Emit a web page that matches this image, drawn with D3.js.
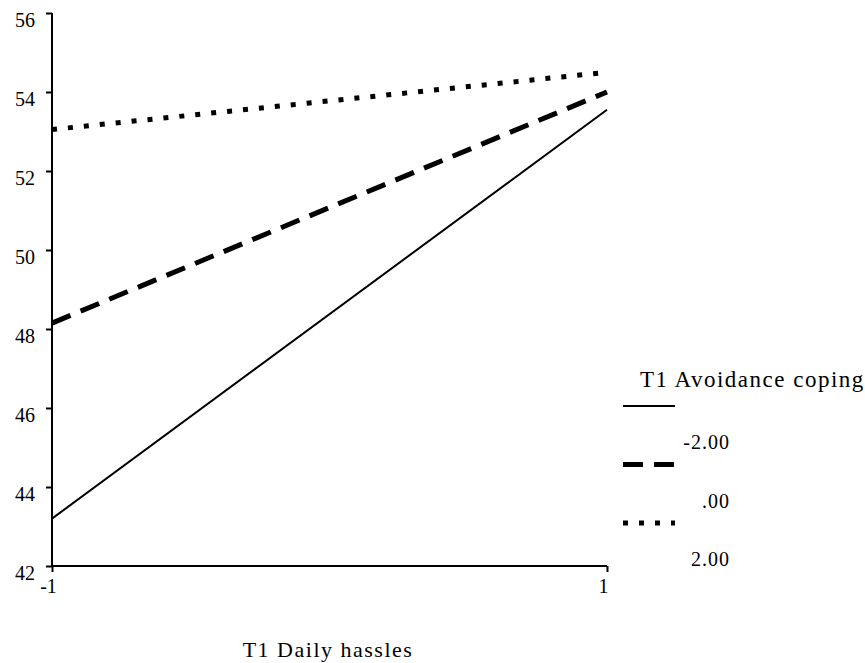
<!DOCTYPE html>
<html>
<head>
<meta charset="utf-8">
<script src="https://cdn.jsdelivr.net/npm/d3@7"></script>
<style>
  body { margin: 0; background: #fff; }
  text { font-family: "Liberation Serif", "Times New Roman", serif; fill: #000; }
</style>
</head>
<body>
<div id="chart"></div>
<script>
// chart values
var hassles = [-1, 1];
var groups = ["-2.00", ".00", "2.00"];
var lowCoping = [43.2, 53.55];
var midCoping = [48.15, 54.0];
var highCoping = [53.05, 54.5];
var yTicks = [42, 44, 46, 48, 50, 52, 54, 56];

var width = 865, height = 663;
var serif = '"Liberation Serif", "Times New Roman", serif';
var svg = d3.select("#chart").append("svg")
    .attr("width", width).attr("height", height);

var x = d3.scaleLinear().domain([-1, 1]).range([52, 607]);
var y = d3.scaleLinear().domain([42, 56]).range([566, 13]);

// y axis
var yAxis = svg.append("g")
    .attr("transform", "translate(" + x(-1) + ",0)")
    .call(d3.axisLeft(y).tickValues(yTicks).tickSize(6).tickPadding(11));
yAxis.attr("font-family", null);
yAxis.select(".domain").attr("d", "M0," + y(56) + "V" + y(42)).attr("stroke-width", 2);
yAxis.selectAll(".tick line").attr("stroke-width", 2);
yAxis.selectAll(".tick text")
    .attr("dy", "0.68em")
    .attr("font-size", 20)
    .style("font-family", serif);

// x axis
var xAxis = svg.append("g")
    .attr("transform", "translate(0," + y(42) + ")")
    .call(d3.axisBottom(x).tickValues(hassles).tickSize(6).tickPadding(7)
        .tickFormat(function (d) { return String(d); }));
xAxis.attr("font-family", null);
xAxis.select(".domain").attr("d", "M" + x(-1) + ",0H" + x(1)).attr("stroke-width", 2);
xAxis.selectAll(".tick line").attr("stroke-width", 2);
xAxis.selectAll(".tick text")
    .attr("font-size", 20)
    .attr("dx", -4)
    .style("font-family", serif);

svg.append("text")
    .attr("x", 328).attr("y", 657)
    .attr("text-anchor", "middle")
    .attr("font-size", 22)
    .attr("letter-spacing", 1.5)
    .text("T1 Daily hassles");

// the three lines
var series = [
    {values: lowCoping, dash: null, w: 2},
    {values: midCoping, dash: "20,11", w: 5},
    {values: highCoping, dash: "5,11", w: 5}
];
var line = d3.line()
    .x(function (d, i) { return x(hassles[i]); })
    .y(function (d) { return y(d); });

svg.selectAll("path.series").data(series)
    .enter().append("path")
    .attr("class", "series")
    .attr("d", function (d) { return line(d.values); })
    .attr("fill", "none")
    .attr("stroke", "#000")
    .attr("stroke-width", function (d) { return d.w; })
    .attr("stroke-dasharray", function (d) { return d.dash; });

// legend
var legend = svg.append("g");
legend.append("text")
    .attr("x", 640).attr("y", 387)
    .attr("font-size", 23)
    .attr("letter-spacing", 1.5)
    .text("T1 Avoidance coping");

var lg = legend.selectAll("g.item").data(series)
    .enter().append("g")
    .attr("class", "item")
    .attr("transform", function (d, i) { return "translate(0," + (i * 58.5) + ")"; });
lg.append("line")
    .attr("x1", 623).attr("x2", 675)
    .attr("y1", 406).attr("y2", 406)
    .attr("stroke", "#000")
    .attr("stroke-width", function (d) { return d.w; })
    .attr("stroke-dasharray", function (d) { return d.dash; });
lg.append("text")
    .attr("x", 730).attr("y", 449)
    .attr("text-anchor", "end")
    .attr("font-size", 20)
    .attr("letter-spacing", 1)
    .text(function (d, i) { return groups[i]; });
</script>
</body>
</html>
